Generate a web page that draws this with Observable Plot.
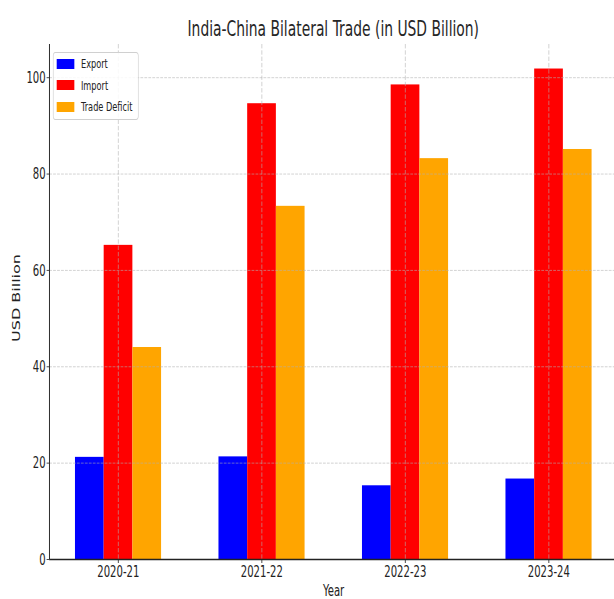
<!DOCTYPE html>
<html>
<head>
<meta charset="utf-8">
<script src="https://cdn.jsdelivr.net/npm/d3@7"></script>
<script src="https://cdn.jsdelivr.net/npm/@observablehq/plot@0.6"></script>
<style>
html, body { margin: 0; padding: 0; background: #fff; overflow: hidden; }
#wrap { width: 614px; height: 599px; overflow: hidden; position: relative; background: #fff; }
#stage { position: absolute; left: 0; top: 0; width: 980px; transform: scaleX(0.63); transform-origin: 0 0; font-family: "DejaVu Sans", sans-serif; }
#title { box-sizing: border-box; height: 40px; padding: 18px 0 0 78px; font-size: 22px; line-height: 22px; text-align: center; color: #262626; white-space: nowrap; }
#legend { position: absolute; left: 84px; top: 51.7px; width: 135.5px; height: 68.3px; box-sizing: border-box; border: 1px solid rgba(200,200,200,0.85); border-radius: 4px; background: rgba(255,255,255,0.85); padding-top: 0.5px; }
.row { display: flex; align-items: center; height: 21.4px; }
.sw { width: 27.5px; height: 10px; margin-left: 5px; margin-right: 11px; flex: none; }
.lab { font-size: 13px; color: #222; white-space: nowrap; }
</style>
</head>
<body>
<div id="wrap"><div id="stage"><div id="title"></div><div id="chart"></div><div id="legend"></div></div></div>
<script>
const years = ["2020-21", "2021-22", "2022-23", "2023-24"];
const exportValues = [21.2, 21.3, 15.3, 16.7];
const importValues = [65.2, 94.6, 98.5, 101.8];
const deficitValues = [44.0, 73.3, 83.2, 85.1];
const seriesNames = ["Export", "Import", "Trade Deficit"];
const seriesColors = ["#0000ff", "#ff0000", "#ffa500"];
const yTicks = [0, 20, 40, 60, 80, 100];
const titleText = "India-China Bilateral Trade (in USD Billion)";
const xLabel = "Year";
const yLabel = "USD Billion";

const seriesValues = [exportValues, importValues, deficitValues];
const barWidth = 0.2;
const rows = [];
seriesNames.forEach((s, k) => years.forEach((yr, i) => rows.push({i, k, year: yr, series: s, value: seriesValues[k][i]})));
const xIdx = years.map((_, i) => i);
const xDomain = [-1.5 * barWidth - 0.18, years.length - 1 + 1.5 * barWidth + 0.18];
const yMax = d3.max(seriesValues.flat()) * 1.05;

document.getElementById("title").textContent = titleText;

const gridStyle = {stroke: "#b0b0b0", strokeOpacity: 0.7, strokeWidth: 1, strokeDasharray: "4.4,1.9"};

const chart = Plot.plot({
  width: 980,
  height: 559,
  marginLeft: 78,
  marginRight: 0,
  marginTop: 4,
  marginBottom: 40,
  style: {fontFamily: '"DejaVu Sans", sans-serif', fontSize: "16px", color: "#222", background: "transparent", overflow: "visible"},
  x: {type: "linear", domain: xDomain},
  y: {type: "linear", domain: [0, yMax]},
  color: {domain: seriesNames, range: seriesColors},
  marks: [
    Plot.rectY(rows, {
      x1: d => d.i + (d.k - 1) * barWidth - barWidth / 2,
      x2: d => d.i + (d.k - 1) * barWidth + barWidth / 2,
      y1: 0,
      y2: "value",
      fill: "series"
    }),
    Plot.gridY(yTicks.slice(1), gridStyle),
    Plot.gridX(xIdx, gridStyle),
    Plot.ruleY([0], {stroke: "#222", strokeWidth: 1.5}),
    Plot.ruleX([xDomain[0]], {stroke: "#222", strokeWidth: 1.5}),
    Plot.axisY(yTicks, {tickSize: 4, tickPadding: 2, label: null, stroke: "#222"}),
    Plot.axisX(xIdx, {tickFormat: i => years[i], tickSize: 4, tickPadding: 2, label: null, stroke: "#222"}),
    Plot.text([yLabel], {frameAnchor: "left", rotate: -90, dx: -52, dy: -4, text: d => d, lineAnchor: "middle", textAnchor: "middle", fill: "#222", fontSize: 16}),
    Plot.text([xLabel], {frameAnchor: "bottom", dy: 31, text: d => d, lineAnchor: "middle", textAnchor: "middle", fill: "#222", fontSize: 16})
  ]
});
document.getElementById("chart").appendChild(chart);

const legend = d3.select("#legend");
seriesNames.forEach((name, k) => {
  const row = legend.append("div").attr("class", "row");
  row.append("div").attr("class", "sw").style("background", seriesColors[k]);
  row.append("div").attr("class", "lab").text(name);
});
</script>
</body>
</html>
